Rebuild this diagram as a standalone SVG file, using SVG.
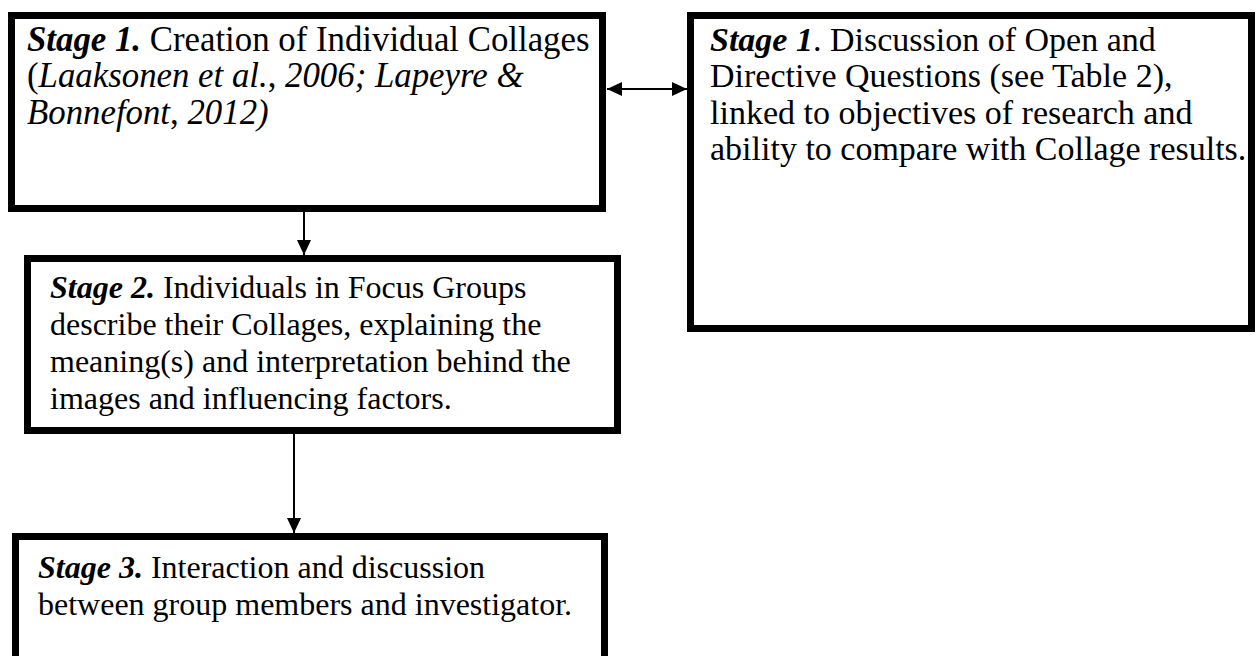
<svg xmlns="http://www.w3.org/2000/svg" width="1256" height="656" viewBox="0 0 1256 656">
  <style>
    .box { fill: #ffffff; stroke: #000000; stroke-width: 7; }
    .txt { font-family: "Liberation Serif", "Times New Roman", serif; font-size: 32px; fill: #000000; }
    .big1 { font-size: 34.8px; }
    .big2 { font-size: 34px; }
    .bi { font-weight: bold; font-style: italic; }
    .it { font-style: italic; }
    .link { stroke: #000000; stroke-width: 2; fill: none; }
  </style>
  <defs>
    <marker id="head" markerUnits="userSpaceOnUse" markerWidth="16" markerHeight="16" viewBox="0 0 16 16" refX="15" refY="8" orient="auto-start-reverse">
      <path d="M0,1 L15,8 L0,15 Z" fill="#000000"/>
    </marker>
  </defs>

  <rect width="1256" height="656" fill="#ffffff"/>

  <!-- connectors -->
  <g id="connectors">
    <line class="link" x1="607" y1="89" x2="687" y2="89" marker-start="url(#head)" marker-end="url(#head)"/>
    <line class="link" x1="304" y1="212" x2="304" y2="255" marker-end="url(#head)"/>
    <line class="link" x1="294" y1="434" x2="294" y2="533" marker-end="url(#head)"/>
  </g>

  <!-- Stage 1: collages -->
  <g id="stage1-collages">
    <rect class="box" x="11.5" y="15.5" width="591" height="193"/>
    <text class="txt big1" x="27" y="51"><tspan class="bi">Stage 1.</tspan> Creation of Individual Collages</text>
    <text class="txt big1" x="27" y="87">(<tspan class="it">Laaksonen et al.</tspan>, <tspan class="it">2006; Lapeyre &amp;</tspan></text>
    <text class="txt big1" x="27" y="124"><tspan class="it">Bonnefont</tspan>, <tspan class="it">2012)</tspan></text>
  </g>

  <!-- Stage 1: questions -->
  <g id="stage1-questions">
    <rect class="box" x="690.5" y="15.5" width="561" height="313"/>
    <text class="txt big2" x="710" y="51"><tspan class="bi">Stage 1</tspan>. Discussion of Open and</text>
    <text class="txt big2" x="710" y="87">Directive Questions (see Table 2),</text>
    <text class="txt big2" x="710" y="124">linked to objectives of research and</text>
    <text class="txt big2" x="710" y="160">ability to compare with Collage results.</text>
  </g>

  <!-- Stage 2 -->
  <g id="stage2">
    <rect class="box" x="27.5" y="258.5" width="590" height="172"/>
    <text class="txt" x="50" y="298"><tspan class="bi">Stage 2.</tspan> Individuals in Focus Groups</text>
    <text class="txt" x="50" y="335">describe their Collages, explaining the</text>
    <text class="txt" x="50" y="372">meaning(s) and interpretation behind the</text>
    <text class="txt" x="50" y="409">images and influencing factors.</text>
  </g>

  <!-- Stage 3 -->
  <g id="stage3">
    <rect class="box" x="15.5" y="536.5" width="589" height="140"/>
    <text class="txt" x="38" y="578"><tspan class="bi">Stage 3.</tspan> Interaction and discussion</text>
    <text class="txt" x="38" y="615">between group members and investigator.</text>
  </g>
</svg>
